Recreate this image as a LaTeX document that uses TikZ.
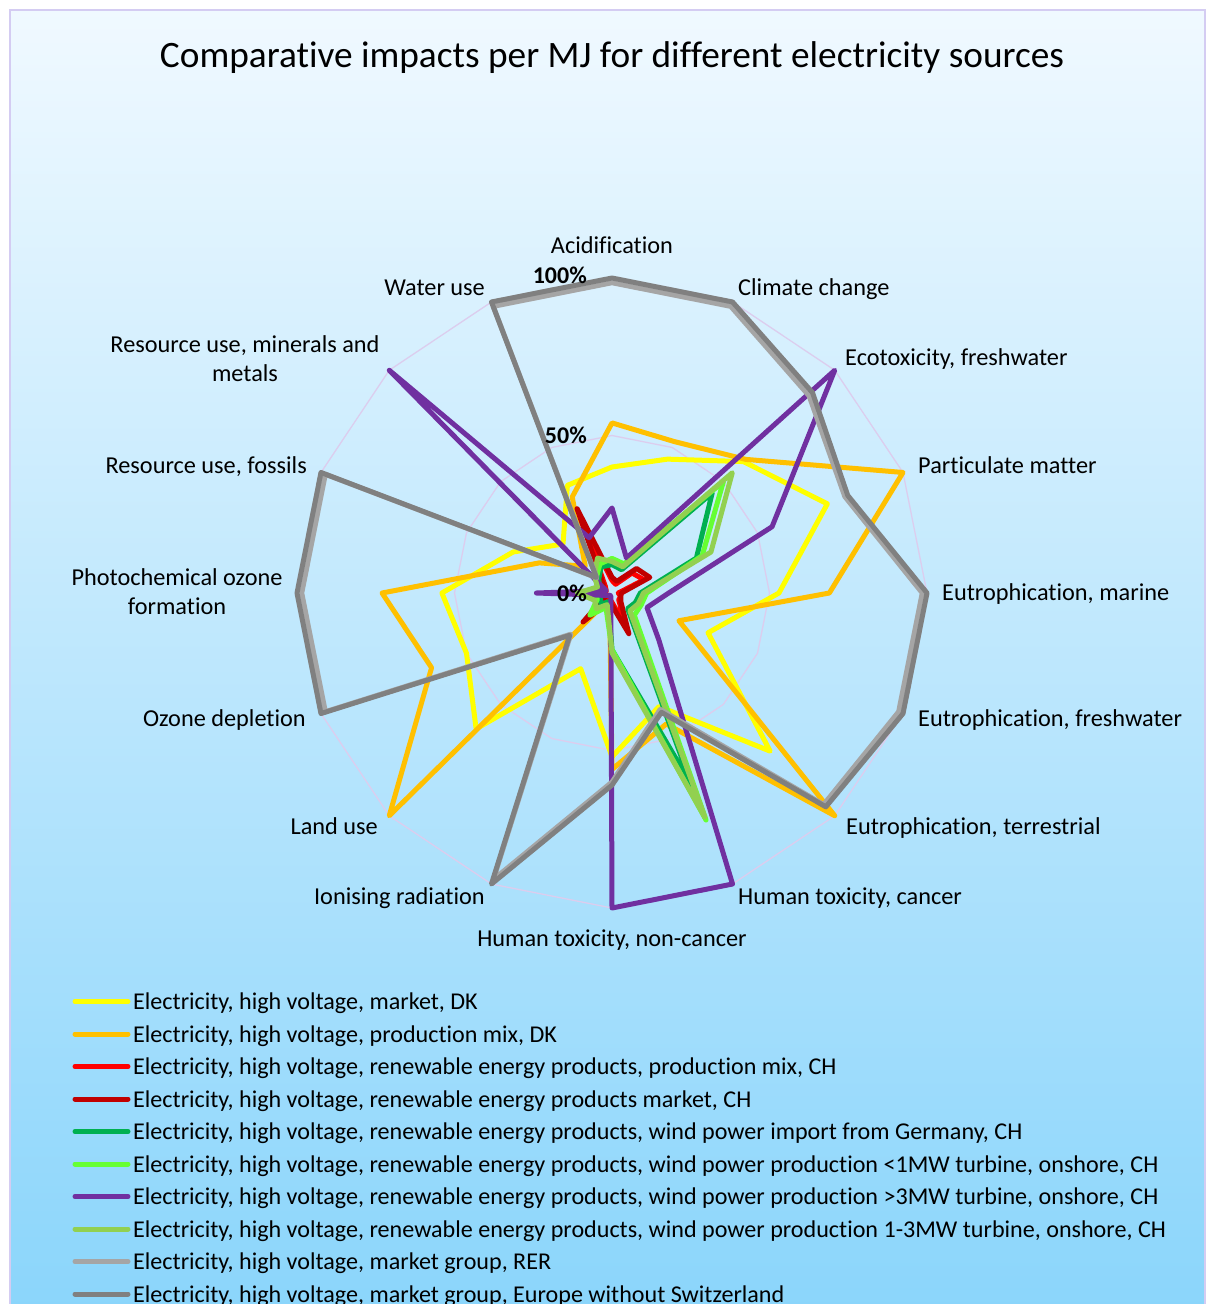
\documentclass[tikz,border=0pt]{standalone}
\usepackage{fontspec}
\setmainfont{Carlito}[Ligatures={NoCommon}]

\definecolor{bgTop}{HTML}{F0F9FF}
\definecolor{bgBot}{HTML}{8AD5FB}
\definecolor{frameC}{HTML}{D4CCF2}
\definecolor{gridC}{HTML}{DCCDEE}
\definecolor{cYel}{HTML}{FFFF00}
\definecolor{cOra}{HTML}{FFC000}
\definecolor{cRed}{HTML}{FF0000}
\definecolor{cDRed}{HTML}{C00000}
\definecolor{cGrn}{HTML}{00B050}
\definecolor{cBGrn}{HTML}{66FF33}
\definecolor{cPur}{HTML}{7030A0}
\definecolor{cLGrn}{HTML}{92D050}
\definecolor{cLGry}{HTML}{A5A5A5}
\definecolor{cDGry}{HTML}{808080}

\tikzset{
  ttl/.style={font=\fontsize{37.3}{44}\selectfont, inner sep=0pt},
  axlab/.style={font=\fontsize{24.3}{29}\selectfont, inner sep=0pt},
  pct/.style={font=\bfseries\fontsize{24}{29}\selectfont, inner sep=0pt, anchor=base east},
  legtext/.style={font=\fontsize{24.1}{28}\selectfont, inner sep=0pt, anchor=base west},
  series/.style={line width=5pt, line join=round, line cap=round},
  legline/.style={line width=5pt, line cap=round},
  gridline/.style={gridC, line width=1.3pt},
}

% radar polygon: #1 = style, #2 = 16 fractions of the full radius
\newcommand\radarline[2]{%
  \foreach \v [count=\k from 0] in {#2}{%
    \coordinate (rp\k) at ({612+315*\v*sin(22.5*\k)},{593-315*\v*cos(22.5*\k)});
  }%
  \draw[#1] (rp0)--(rp1)--(rp2)--(rp3)--(rp4)--(rp5)--(rp6)--(rp7)--(rp8)--(rp9)--(rp10)--(rp11)--(rp12)--(rp13)--(rp14)--(rp15)--cycle;
}

\begin{document}
\begin{tikzpicture}[x=1pt, y=-1pt]
\useasboundingbox (0,0) rectangle (1206,1304);
\clip (0,0) rectangle (1206,1304);

% chart area
\shade[top color=bgTop, bottom color=bgBot] (10,10) rectangle (1205,1320);
\draw[frameC, line width=2pt] (10,10) rectangle (1205,1320);

% title
\node[ttl, anchor=base] (title) at (612,67) {Comparative impacts per MJ for different electricity sources};

% grid rings
\radarline{gridline}{0.5,0.5,0.5,0.5,0.5,0.5,0.5,0.5,0.5,0.5,0.5,0.5,0.5,0.5,0.5,0.5}
\radarline{gridline}{1,1,1,1,1,1,1,1,1,1,1,1,1,1,1,1}

% data series
\radarline{series, cYel}{0.40,0.46,0.59,0.74,0.53,0.33,0.71,0.39,0.52,0.26,0.61,0.50,0.54,0.34,0.22,0.37}
\radarline{series, cOra}{0.54,0.52,0.60,1.00,0.69,0.23,1.00,0.45,0.56,0.02,1.00,0.62,0.73,0.25,0.12,0.33}
\radarline{series, cRed}{0.04,0.03,0.09,0.11,0.02,0.03,0.03,0.12,0.03,0.02,0.11,0.02,0.02,0.02,0.03,0.24}
\radarline{series, cDRed}{0.05,0.04,0.11,0.13,0.03,0.03,0.04,0.14,0.04,0.03,0.13,0.02,0.03,0.03,0.04,0.29}
\radarline{series, cGrn}{0.09,0.08,0.45,0.29,0.09,0.08,0.07,0.66,0.18,0.03,0.05,0.04,0.05,0.04,0.06,0.09}
\radarline{series, cBGrn}{0.11,0.10,0.50,0.31,0.11,0.10,0.10,0.78,0.18,0.05,0.10,0.05,0.06,0.05,0.07,0.10}
\radarline{series, cPur}{0.27,0.12,1.00,0.55,0.18,0.12,0.21,1.00,1.00,0.01,0.01,0.02,0.24,0.02,1.00,0.19}
\radarline{series, cLGrn}{0.10,0.09,0.54,0.34,0.10,0.09,0.08,0.77,0.19,0.04,0.07,0.06,0.11,0.05,0.08,0.12}
\radarline{series, cLGry}{0.985,0.985,0.885,0.80,0.985,0.985,0.95,0.40,0.60,0.985,0.185,0.985,0.985,0.985,0.068,0.985}
\radarline{series, cDGry}{1.00,1.00,0.90,0.81,1.00,1.00,0.96,0.41,0.61,1.00,0.19,1.00,1.00,1.00,0.07,1.00}

% scale labels
\node[pct] (p100) at (587,283) {100\%};
\node[pct] (p50) at (587,443) {50\%};
\node[pct] (p0) at (587,601) {0\%};

% category labels
\node[axlab, anchor=base] (c0) at (612,253) {Acidification};
\node[axlab, anchor=base west] (c1) at (738,295) {Climate change};
\node[axlab, anchor=base west] (c2) at (845,365) {Ecotoxicity, freshwater};
\node[axlab, anchor=base west] (c3) at (918,473) {Particulate matter};
\node[axlab, anchor=base west] (c4) at (942,600) {Eutrophication, marine};
\node[axlab, anchor=base west] (c5) at (918,726) {Eutrophication, freshwater};
\node[axlab, anchor=base west] (c6) at (846,834) {Eutrophication, terrestrial};
\node[axlab, anchor=base west] (c7) at (738,904) {Human toxicity, cancer};
\node[axlab, anchor=base] (c8) at (612,946) {Human toxicity, non-cancer};
\node[axlab, anchor=base east] (c9) at (485,904) {Ionising radiation};
\node[axlab, anchor=base east] (c10) at (378,834) {Land use};
\node[axlab, anchor=base east] (c11) at (306,726) {Ozone depletion};
\node[axlab, anchor=base] (c12a) at (177,585) {Photochemical ozone};
\node[axlab, anchor=base] (c12b) at (177,614) {formation};
\node[axlab, anchor=base east] (c13) at (307,473) {Resource use, fossils};
\node[axlab, anchor=base] (c14a) at (245,352) {Resource use, minerals and};
\node[axlab, anchor=base] (c14b) at (245,381) {metals};
\node[axlab, anchor=base east] (c15) at (485,295) {Water use};

% legend
\foreach \col/\txt [count=\i from 0] in {
  cYel/{Electricity, high voltage, market, DK},
  cOra/{Electricity, high voltage, production mix, DK},
  cRed/{Electricity, high voltage, renewable energy products, production mix, CH},
  cDRed/{Electricity, high voltage, renewable energy products market, CH},
  cGrn/{Electricity, high voltage, renewable energy products, wind power import from Germany, CH},
  cBGrn/{Electricity, high voltage, renewable energy products, wind power production <1MW turbine, onshore, CH},
  cPur/{Electricity, high voltage, renewable energy products, wind power production >3MW turbine, onshore, CH},
  cLGrn/{Electricity, high voltage, renewable energy products, wind power production 1-3MW turbine, onshore, CH},
  cLGry/{Electricity, high voltage, market group, RER},
  cDGry/{Electricity, high voltage, market group, Europe without Switzerland}}{
  \coordinate (ls\i) at (75,{1001.5+32.5*\i});
  \coordinate (le\i) at (128,{1001.5+32.5*\i});
  \draw[legline, \col] (ls\i) -- (le\i);
  \node[legtext] (lt\i) at (133,{1009.5+32.5*\i}) {\txt};
}
\end{tikzpicture}
\end{document}
